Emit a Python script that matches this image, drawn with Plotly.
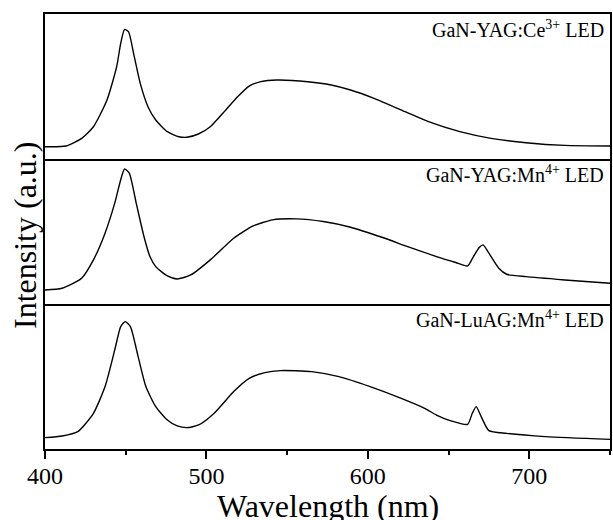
import plotly.graph_objects as go
from plotly.subplots import make_subplots

# ---- data ----
wl_ce = [400, 413, 422.7, 430, 438.4, 444.4, 446.9, 449.3, 451.7, 455.3, 459, 463.8, 468.6, 475.8,
         483, 487.9, 495, 502.4, 512, 519.3, 526.5, 533.8, 543.4, 562.8, 577.3, 589.3, 603.8,
         623.1, 637.6, 657, 676.3, 698, 722, 750]
int_ce = [0, 0.006, 0.071, 0.170, 0.398, 0.682, 0.881, 1.0, 0.980, 0.767, 0.540, 0.341, 0.227, 0.128,
          0.085, 0.080, 0.108, 0.170, 0.313, 0.426, 0.517, 0.554, 0.568, 0.554, 0.526, 0.483, 0.412,
          0.298, 0.213, 0.128, 0.071, 0.034, 0.011, 0.006]

wl_yag_mn = [400, 410.6, 422.7, 430, 437.2, 443.2, 446.9, 449.3, 452.2, 456.5, 461.3, 465, 468.6,
             475.8, 481.9, 490.3, 502.4, 516.9, 529, 541, 555.5, 572.4, 589.3, 608.7, 625.6, 642.5,
             654.5, 661.8, 665.4, 669, 671.4, 675, 681.1, 686, 698, 722, 750]
int_yag_mn = [0, 0.014, 0.097, 0.249, 0.470, 0.718, 0.912, 1.0, 0.967, 0.718, 0.442, 0.276, 0.193,
              0.116, 0.091, 0.124, 0.249, 0.428, 0.530, 0.580, 0.588, 0.566, 0.519, 0.436, 0.354, 0.276,
              0.227, 0.199, 0.276, 0.351, 0.373, 0.304, 0.180, 0.130, 0.110, 0.083, 0.055]

wl_luag_mn = [400, 410.6, 420.3, 430, 437.2, 443.2, 446.9, 449.7, 452.9, 457.7, 462.5, 468.6, 475.8,
              481.9, 487.9, 495.2, 504.8, 516.9, 526.5, 536.2, 545.9, 565.2, 582.1, 601.4, 620.7,
              635.2, 642.5, 651, 661.8, 664.7, 667.1, 670.2, 675, 686, 710, 750]
int_luag_mn = [0, 0.014, 0.052, 0.210, 0.440, 0.756, 0.957, 1.0, 0.957, 0.698, 0.440, 0.267, 0.152,
               0.101, 0.086, 0.109, 0.210, 0.397, 0.511, 0.560, 0.578, 0.569, 0.526, 0.440, 0.339,
               0.253, 0.195, 0.147, 0.115, 0.210, 0.267, 0.181, 0.060, 0.037, 0.009, -0.015]

labels = ["GaN-YAG:Ce<sup>3+</sup> LED", "GaN-YAG:Mn<sup>4+</sup> LED", "GaN-LuAG:Mn<sup>4+</sup> LED"]
y_ranges = [[-0.105, 1.131], [-0.116, 1.083], [-0.098, 1.152]]
x_ticks = [400, 500, 600, 700]

FONT = "Liberation Serif, Times New Roman, serif"
LW = 1.6

fig = make_subplots(rows=3, cols=1, shared_xaxes=True, vertical_spacing=0)
series = [(wl_ce, int_ce), (wl_yag_mn, int_yag_mn), (wl_luag_mn, int_luag_mn)]
for i, (wx, wy) in enumerate(series):
    fig.add_trace(go.Scatter(x=wx, y=wy, mode="lines",
                             line=dict(color="black", width=1.4, shape="spline", smoothing=0.6),
                             showlegend=False, hoverinfo="skip"), row=i + 1, col=1)

for i in range(3):
    fig.update_yaxes(range=y_ranges[i], showticklabels=False, ticks="", showgrid=False,
                     zeroline=False, showline=True, mirror=True, linecolor="black", linewidth=LW,
                     row=i + 1, col=1)
    fig.update_xaxes(range=[400, 750], showgrid=False, zeroline=False, showline=True,
                     mirror=(i == 0), linecolor="black", linewidth=LW, row=i + 1, col=1)

fig.update_xaxes(ticks="", showticklabels=False, row=1, col=1)
fig.update_xaxes(ticks="", showticklabels=False, row=2, col=1)
fig.update_xaxes(ticks="outside", tickvals=x_ticks, ticktext=[str(v) for v in x_ticks],
                 ticklen=8, tickwidth=LW, tickcolor="black", ticklabelstandoff=-4,
                 minor=dict(tickvals=[450, 550, 650, 750], ticks="outside", ticklen=4,
                            tickwidth=LW, tickcolor="black"),
                 tickfont=dict(family=FONT, size=24, color="black"), row=3, col=1)

annotations = []
tops = [1.0, 2 / 3, 1 / 3]
for lab, top in zip(labels, tops):
    annotations.append(dict(text=lab, xref="paper", yref="paper", x=1.0, y=top, xanchor="right",
                            yanchor="middle", xshift=-4, yshift=-15, showarrow=False,
                            font=dict(family=FONT, size=20, color="black")))
annotations.append(dict(text="Wavelength (nm)", xref="paper", yref="paper", x=0.5, y=0,
                        xanchor="center", yanchor="middle", yshift=-57, showarrow=False,
                        font=dict(family=FONT, size=32, color="black")))
annotations.append(dict(text="Intensity (a.u.)", xref="paper", yref="paper", x=0, y=0.492,
                        xanchor="center", yanchor="middle", xshift=-20, textangle=-90,
                        showarrow=False, font=dict(family=FONT, size=32, color="black")))

fig.update_layout(width=613, height=520, margin=dict(l=45, r=1, t=14, b=71),
                  paper_bgcolor="white", plot_bgcolor="white", annotations=annotations,
                  font=dict(family=FONT, color="black"), hovermode=False)

fig.write_html("out.html", config={"displayModeBar": False},
               post_script="document.body.style.margin='0px';")
